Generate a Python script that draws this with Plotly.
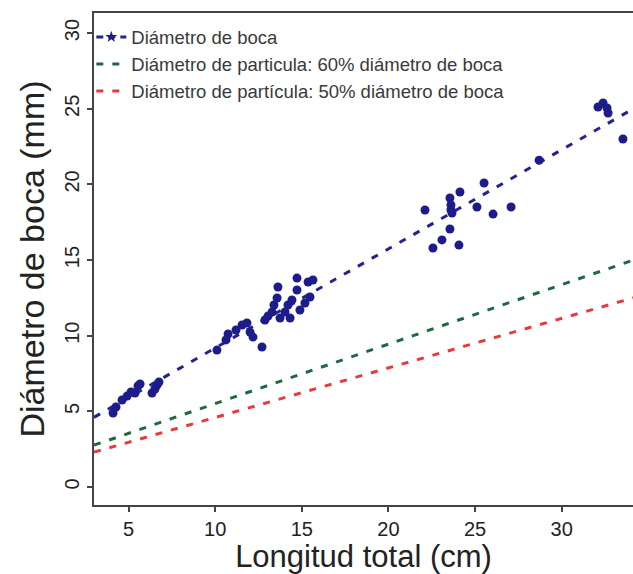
import plotly.graph_objects as go

# Measured fish: total length (cm) and mouth diameter (mm)
longitud = [4.10, 4.27, 4.62, 4.91, 5.14, 5.37, 5.54, 5.66, 6.35, 6.52, 6.64, 6.75,
            10.10, 10.62, 10.74, 11.20, 11.55, 11.83, 12.01, 12.18, 12.70,
            12.87, 13.05, 13.28, 13.39, 13.57, 13.62, 13.74, 14.03, 14.20, 14.43,
            14.72, 14.72, 14.89, 15.18, 15.36, 15.47, 15.64, 14.32,
            22.11, 23.55, 23.61, 23.61, 23.67, 24.13, 25.52, 25.11, 26.04, 27.08,
            23.55, 23.09, 22.57, 24.07, 28.70,
            32.10, 32.39, 32.62, 32.68, 33.54]
diametro_boca = [4.89, 5.29, 5.75, 6.01, 6.28, 6.21, 6.68, 6.81, 6.21, 6.48, 6.74, 6.94,
                 9.05, 9.72, 10.11, 10.38, 10.71, 10.84, 10.24, 9.91, 9.25,
                 11.04, 11.30, 11.57, 12.03, 12.49, 13.22, 11.17, 11.57, 12.03, 12.36,
                 13.02, 13.81, 11.70, 12.16, 13.55, 12.56, 13.68, 11.17,
                 18.31, 19.10, 18.64, 18.31, 18.11, 19.50, 20.09, 18.51, 18.04, 18.51,
                 17.05, 16.33, 15.80, 15.99, 21.60,
                 25.12, 25.38, 25.05, 24.72, 23.00]

# Linear fit of mouth diameter on length, and particle-size fractions
ajuste_intercepto = 2.64
ajuste_pendiente = 0.655
fracciones = [1.0, 0.6, 0.5]
nombres = ["Diámetro de boca",
           "Diámetro de particula: 60% diámetro de boca",
           "Diámetro de partícula: 50% diámetro de boca"]
colores = ["#23238f", "#1f6a3c", "#e83a3a"]

x_linea = [3.0, 34.2]

fig = go.Figure()

for frac, nombre, color in zip(fracciones, nombres, colores):
    y_linea = [frac * (ajuste_intercepto + ajuste_pendiente * xv) for xv in x_linea]
    fig.add_trace(go.Scatter(
        x=x_linea, y=y_linea, mode="lines",
        line=dict(color=color, width=3, dash="7px,9px"),
        name=nombre, showlegend=(frac != 1.0),
        legendrank=int(1000 - frac * 100),
    ))

fig.add_trace(go.Scatter(
    x=longitud, y=diametro_boca, mode="markers",
    marker=dict(color="#1c1c8a", size=9),
    showlegend=False,
))

# Legend entry for the measured series (line + marker)
fig.add_trace(go.Scatter(
    x=[None], y=[None], mode="lines+markers",
    line=dict(color=colores[0], width=3, dash="7px,5px"),
    marker=dict(color="#1c1c8a", size=9, symbol="star"),
    name=nombres[0], legendrank=1,
))

axis_font = dict(family="Liberation Sans, Arial, sans-serif", size=20, color="#222")

fig.update_layout(
    width=633, height=574,
    margin=dict(l=94, r=0, t=13, b=69),
    paper_bgcolor="white", plot_bgcolor="white",
    font=dict(family="Liberation Sans, Arial, sans-serif", color="#222"),
    showlegend=True,
    legend=dict(x=-0.005, y=0.989, xanchor="left", yanchor="top",
                bgcolor="rgba(0,0,0,0)", font=dict(size=18.5, color="#3a3a3a"),
                itemwidth=30),
    xaxis=dict(range=[3.0, 34.12], tickvals=[5, 10, 15, 20, 25, 30],
               showgrid=False, zeroline=False, showline=True, linecolor="#444",
               linewidth=2, mirror=True, ticks="outside", ticklen=5, tickwidth=1.5,
               tickcolor="#444", tickfont=axis_font,
               title=dict(text="Longitud total (cm)", font=dict(size=31, color="#222"),
                          standoff=9)),
    yaxis=dict(range=[-1.19, 31.33], tickvals=[0, 5, 10, 15, 20, 25, 30],
               showgrid=False, zeroline=False, showline=True, linecolor="#444",
               linewidth=2, ticks="outside", ticklen=5, tickwidth=1.5,
               tickcolor="#444", tickfont=axis_font, tickangle=-90,
               title=dict(text="Diámetro de boca (mm)", font=dict(size=34, color="#222"),
                          standoff=6)),
)

fig.write_html("out.html")
